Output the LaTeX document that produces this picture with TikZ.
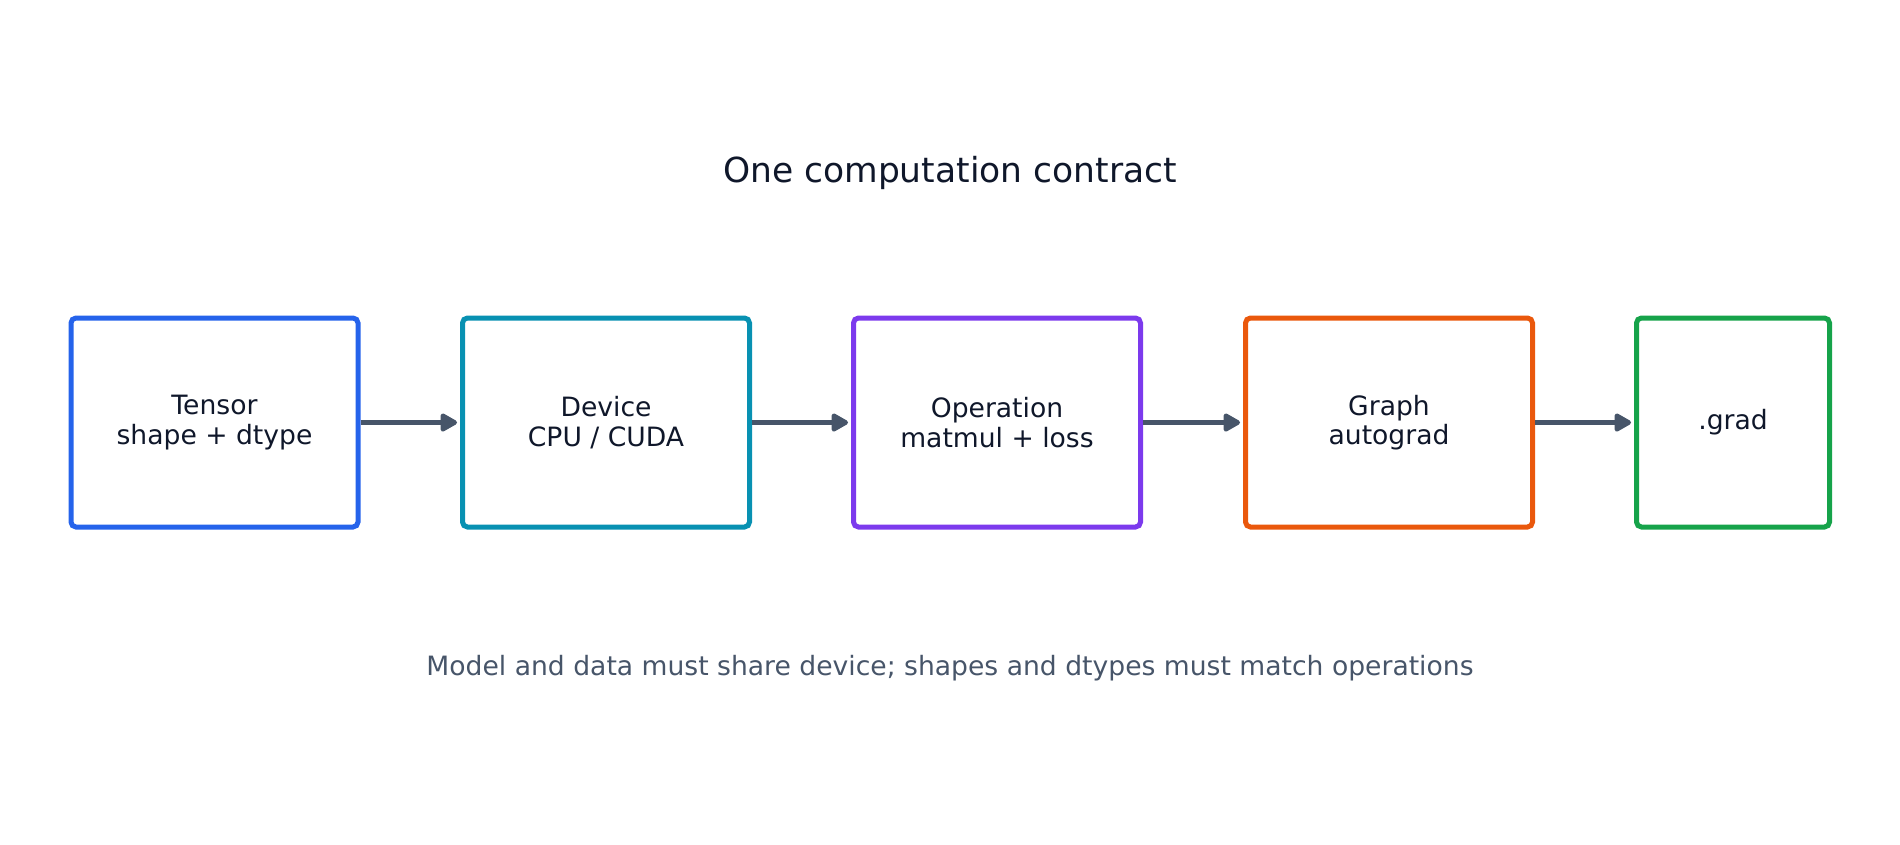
\documentclass[tikz,border=0pt]{standalone}
\usepackage{fontspec}
\setmainfont{DejaVu Sans}
\usetikzlibrary{arrows.meta}
\definecolor{inkdark}{HTML}{0F172A}
\definecolor{inkgray}{HTML}{475569}
\definecolor{cblue}{HTML}{2563EB}
\definecolor{cteal}{HTML}{0891B2}
\definecolor{cpurple}{HTML}{7C3AED}
\definecolor{corange}{HTML}{EA580C}
\definecolor{cgreen}{HTML}{16A34A}
\begin{document}
\begin{tikzpicture}[x=1pt,y=-1pt,
	> = {Triangle[length=19pt,width=20pt,round]}, % arrow head style
	shorten > = 3pt, % don't touch arrow head to node
	every node/.style={text=inkdark,font=\fontsize{26.6}{29.5}\selectfont,align=center},
	stage/.style={draw,line width=5pt,rounded corners=5pt,minimum width=287pt,minimum height=209pt,inner sep=0pt}]
	\useasboundingbox (0,0) rectangle (1900,844);
	\node (title) at (950,172.5) {\fontsize{34.5}{40}\selectfont One computation contract};
	\node[stage,draw=cblue] (n1) at (214.5,422.5) {Tensor\\shape + dtype};
	\node[stage,draw=cteal] (n2) at (606,422.5) {Device\\CPU / CUDA};
	\node[stage,draw=cpurple] (n3) at (997,422.5) {Operation\\matmul + loss};
	\node[stage,draw=corange] (n4) at (1389,422.5) {Graph\\autograd};
	\node[stage,draw=cgreen,minimum width=193pt] (n5) at (1733,422.5) {.grad};
	\node[text=inkgray] (note) at (950,668.5) {Model and data must share device; shapes and dtypes must match operations};
	\draw[->,line width=4.5pt,draw=inkgray] (n1)--(n2);
	\draw[->,line width=4.5pt,draw=inkgray] (n2)--(n3);
	\draw[->,line width=4.5pt,draw=inkgray] (n3)--(n4);
	\draw[->,line width=4.5pt,draw=inkgray] (n4)--(n5);
\end{tikzpicture}
\end{document}
